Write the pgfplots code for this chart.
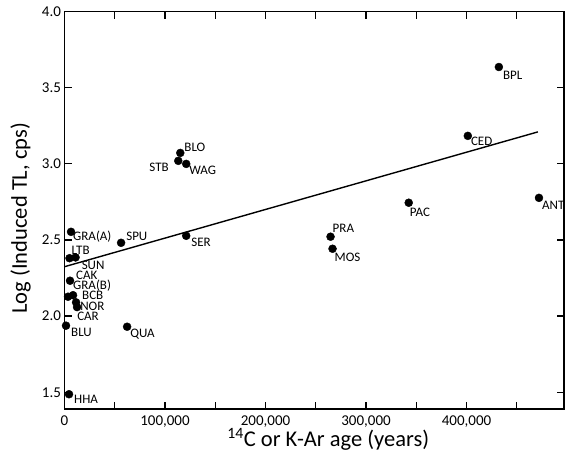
\documentclass[border=0pt]{standalone}
\usepackage{fontspec}
\setmainfont{Carlito}
\usepackage{pgfplots}
\usepackage{pgfplotstable}
\pgfplotsset{compat=1.18}
\pgfplotstableread{
x y lab dx dy
432200 3.635 BPL 4 12
401300 3.183 CED 3 10
472100 2.776 ANT 3 12
342500 2.744 PAC 1 14
264700 2.521 PRA 2 -4
266700 2.442 MOS 2 13
121100 2.527 SER 5 11
56300 2.481 SPU 5 -2
6500 2.553 GRA(A) 2 9
5000 2.380 LTB 2 -4
11000 2.385 SUN 6 12
5500 2.232 CAK 6 -1
3500 2.127 GRA(B) 5 -7
8500 2.137 BCB 9 4
11500 2.090 NOR 4 8
12500 2.059 CAR 0 13
1500 1.937 BLU 5 11
62300 1.930 QUA 3 11
4500 1.487 HHA 5 9
115200 3.071 BLO 4 -1
113200 3.019 STB -29 11
121100 2.999 WAG 3 11
}\data
\begin{document}
\begin{tikzpicture}
\begin{axis}[
  name=ax,
  scale only axis,
  width=499.5pt, height=397.6pt,
  xmin=0, xmax=497000,
  ymin=1.39, ymax=4.0,
  scaled x ticks=false,
  axis line style={line width=1.3pt},
  tick style={line width=1.3pt, black},
  tick align=inside,
  major tick length=7.5pt,
  xtick={0,50000,...,450000},
  xticklabels={0,,{100,000},,{200,000},,{300,000},,{400,000},},
  ytick={1.5,2.0,2.5,3.0,3.5,4.0},
  yticklabels={1.5,2.0,2.5,3.0,3.5,4.0},
  /pgf/number format/assume math mode=true,
  ticklabel style={font=\fontsize{15}{17}\selectfont},
  xticklabel style={yshift=-3pt},
  clip=false,
  xlabel={\textsuperscript{14}C or K-Ar age (years)},
  ylabel={Log (Induced TL, cps)},
  every axis x label/.style={at={(axis description cs:0.528,-0.094)}, anchor=base, font=\fontsize{22.5}{26}\selectfont},
  every axis y label/.style={at={(axis description cs:-0.088,0.48)}, anchor=center, rotate=90, font=\fontsize{22.5}{26}\selectfont},
]
\addplot[black, line width=1.4pt, no marks] coordinates {(0,2.324) (471000,3.209)};
\addplot[only marks, mark=*, mark size=4pt, black,
  nodes near coords, point meta=explicit symbolic,
  visualization depends on={\thisrow{dx}\as\dx},
  visualization depends on={\thisrow{dy}\as\dy},
  every node near coord/.append style={anchor=base west, inner sep=0pt, xshift=\dx pt, yshift=-\dy pt, font=\fontsize{13}{15}\selectfont, text=black}
] table[x=x, y=y, meta=lab] {\data};
\end{axis}
\pgfresetboundingbox
\path ([xshift=-64.5pt,yshift=-42pt]ax.south west) rectangle ([xshift=1pt,yshift=11.4pt]ax.north east);
\end{tikzpicture}
\end{document}
